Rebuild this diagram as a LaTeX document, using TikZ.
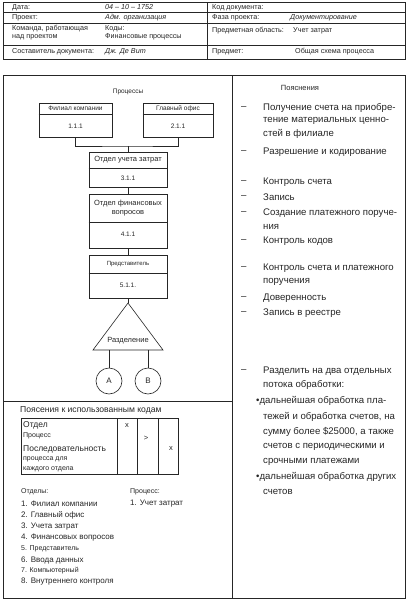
\documentclass[tikz,border=0pt]{standalone}
\usepackage{fontspec}
\setmainfont{Liberation Sans}
\begin{document}
\begin{tikzpicture}[x=1pt,y=-1pt,
  ln/.style={draw=black!85, line width=0.6pt},
  frame/.style={draw=black!85, line width=0.8pt},
  hd/.style={anchor=west, inner sep=0pt, font=\fontsize{7.2}{8}\selectfont, text=black!85},
  hdv/.style={hd, font=\fontsize{7.2}{8}\selectfont\itshape},
  box/.style={ln, rectangle, inner sep=0pt},
  bt/.style={inner sep=0pt, font=\fontsize{6.5}{7.5}\selectfont, text=black!85},
  btl/.style={inner sep=0pt, font=\fontsize{7.5}{8.5}\selectfont, text=black!85, align=center},
  rt/.style={anchor=west, inner sep=0pt, font=\fontsize{9.6}{10.5}\selectfont, text=black!85},
  lt/.style={anchor=west, inner sep=0pt, font=\fontsize{8}{9}\selectfont, text=black!85},
  lts/.style={anchor=west, inner sep=0pt, font=\fontsize{7}{8}\selectfont, text=black!85},
  circ/.style={ln, circle, minimum size=26pt, inner sep=0pt, font=\fontsize{8}{9}\selectfont, text=black!85}
]
\useasboundingbox (0,0) rectangle (409,603);
\fill[white] (0,0) rectangle (409,603);

% ---------- header table ----------
\draw[frame] (3,2) rectangle (405,59);
\draw[ln] (207,2) -- (207,59);
\draw[ln] (3,12) -- (405,12);
\draw[ln] (3,23) -- (405,23);
\draw[ln] (3,45) -- (405,45);

\node[hd] (h1) at (12,7.5) {Дата:};
\node[hdv] (h1v) at (105,7.5) {04 -- 10 -- 1752};
\node[hd] (h2) at (12,17.5) {Проект:};
\node[hdv] (h2v) at (105,17.5) {Адм. организация};
\node[hd, align=left] (h3) at (12,33) {Команда, работающая\\над проектом};
\node[hd, align=left] (h3v) at (105,33) {Коды:\\Финансовые процессы};
\node[hd] (h4) at (12,52) {Составитель документа:};
\node[hdv] (h4v) at (105,52) {Дж. Де Вит};

\node[hd] (r1) at (212,7.5) {Код документа:};
\node[hd] (r2) at (212,17.5) {Фаза проекта:};
\node[hdv] (r2v) at (290,17.5) {Документирование};
\node[hd] (r3) at (212,31) {Предметная область:};
\node[hd] (r3v) at (293,31) {Учет затрат};
\node[hd] (r4) at (212,52) {Предмет:};
\node[hd] (r4v) at (295,52) {Общая схема процесса};

% ---------- main frame ----------
\draw[frame] (3,75) rectangle (405,598);
\draw[frame] (232,75) -- (232,598);
\draw[frame] (3,401) -- (232,401);

% ---------- process diagram ----------
\node[bt] (ttl) at (128,92) {Процессы};

\node[box, minimum width=73pt, minimum height=34pt] (b1) at (75.5,120) {};
\draw[ln] (b1.west |- 0,114) -- (b1.east |- 0,114);
\node[bt] (b1h) at (75.5,108.5) {Филиал компании};
\node[bt] (b1n) at (75.5,126) {1.1.1};

\node[box, minimum width=70pt, minimum height=34pt] (b2) at (178,120) {};
\draw[ln] (b2.west |- 0,114) -- (b2.east |- 0,114);
\node[bt] (b2h) at (178,108.5) {Главный офис};
\node[bt] (b2n) at (178,126) {2.1.1};

\coordinate (j) at (128,146);
\draw[ln] (b1.south) |- (j) -| (b2.south);

\node[box, minimum width=78pt, minimum height=35pt] (b3) at (128,169.5) {};
\draw[ln] (b3.west |- 0,168) -- (b3.east |- 0,168);
\node[btl] (b3h) at (128,160) {Отдел учета затрат};
\node[bt] (b3n) at (128,178) {3.1.1};
\draw[ln] (j) -- (b3.north);

\node[box, minimum width=78pt, minimum height=54pt] (b4) at (128,221) {};
\draw[ln] (b4.west |- 0,222) -- (b4.east |- 0,222);
\node[btl] (b4h) at (128,208) {Отдел финансовых\\вопросов};
\node[bt] (b4n) at (128,234) {4.1.1};
\draw[ln] (b3.south) -- (b4.north);

\node[box, minimum width=78pt, minimum height=43pt] (b5) at (128,276.5) {};
\draw[ln] (b5.west |- 0,273) -- (b5.east |- 0,273);
\node[bt, font=\fontsize{6}{7}\selectfont] (b5h) at (128,264) {Представитель};
\node[bt] (b5n) at (128,285) {5.1.1.};
\draw[ln] (b4.south) -- (b5.north);

\coordinate (apex) at (128,303);
\coordinate (bl) at (93,350);
\coordinate (br) at (163,350);
\draw[ln] (apex) -- (bl) -- (br) -- cycle;
\node[bt, font=\fontsize{7.5}{8.5}\selectfont] (split) at (128,341) {Разделение};
\draw[ln] (b5.south) -- (apex);

\node[circ] (cA) at (109,381) {A};
\node[circ] (cB) at (148,381) {B};
\coordinate (ba) at (109,350);
\coordinate (bb) at (148,350);
\draw[ln] (ba) -- (cA.north);
\draw[ln] (bb) -- (cB.north);

% ---------- codes explanation ----------
\node[lt, font=\fontsize{8.6}{9.5}\selectfont] (ct) at (20,410) {Поясения к использованным кодам};
\draw[ln] (21,418) rectangle (178,474);
\draw[ln] (117,418) -- (117,474);
\draw[ln] (137,418) -- (137,474);
\draw[ln] (158,418) -- (158,474);
\node[lt, font=\fontsize{8.5}{9.5}\selectfont] (c1) at (23,425) {Отдел};
\node[lts] (c2) at (23,436) {Процесс};
\node[lt, font=\fontsize{8.5}{9.5}\selectfont] (c3) at (23,449) {Последовательность};
\node[lts] (c4) at (23,459.5) {процесса для};
\node[lts] (c5) at (23,469.5) {каждого отдела};
\node[bt, font=\fontsize{7.5}{8.5}\selectfont] (x1) at (127,426) {x};
\node[bt, font=\fontsize{7.5}{8.5}\selectfont] (x2) at (146,438) {>};
\node[bt, font=\fontsize{7.5}{8.5}\selectfont] (x3) at (171,449) {x};

\node[lts] (d0) at (21,492) {Отделы:};
\node[lt] (d1) at (21,504) {1. Филиал компании};
\node[lt] (d2) at (21,515) {2. Главный офис};
\node[lt] (d3) at (21,527) {3. Учета затрат};
\node[lt] (d4) at (21,538) {4. Финансовых вопросов};
\node[lts] (d5) at (21,549) {5. Представитель};
\node[lt] (d6) at (21,560) {6. Ввода данных};
\node[lts] (d7) at (21,571) {7. Компьютерный};
\node[lt] (d8) at (21,582) {8. Внутреннего контроля};

\node[lts] (p0) at (130,492) {Процесс:};
\node[lt] (p1) at (130,504) {1. Учет затрат};

% ---------- right panel ----------
\node[bt, font=\fontsize{7.5}{8.5}\selectfont] (rt0) at (300,88) {Пояснения};
\foreach \yy in {108,152,182,197,213,241,268,298,313,371}
  \node[rt] at (241,\yy) {–};
\node[rt] (e1) at (263,108) {Получение счета на приобре-};
\node[rt] (e2) at (263,121) {тение материальных ценно-};
\node[rt] (e3) at (263,134) {стей в филиале};
\node[rt] (e4) at (263,152) {Разрешение и кодирование};
\node[rt] (e5) at (263,182) {Контроль счета};
\node[rt] (e6) at (263,197) {Запись};
\node[rt] (e7) at (263,213) {Создание платежного поруче-};
\node[rt] (e8) at (263,227) {ния};
\node[rt] (e9) at (263,241) {Контроль кодов};
\node[rt] (e10) at (263,268) {Контроль счета и платежного};
\node[rt] (e11) at (263,282) {поручения};
\node[rt] (e12) at (263,298) {Доверенность};
\node[rt] (e13) at (263,313) {Запись в реестре};
\node[rt] (e14) at (263,371) {Разделить на два отдельных};
\node[rt] (e15) at (263,385) {потока обработки:};
\node[rt] (e16) at (256,401) {•дальнейшая обработка пла-};
\node[rt] (e17) at (263,417) {тежей и обработка счетов, на};
\node[rt] (e18) at (263,432) {сумму более \$25000, а также};
\node[rt] (e19) at (263,447) {счетов с периодическими и};
\node[rt] (e20) at (263,462) {срочными платежами};
\node[rt] (e21) at (256,477) {•дальнейшая обработка других};
\node[rt] (e22) at (263,492) {счетов};
\end{tikzpicture}
\end{document}
